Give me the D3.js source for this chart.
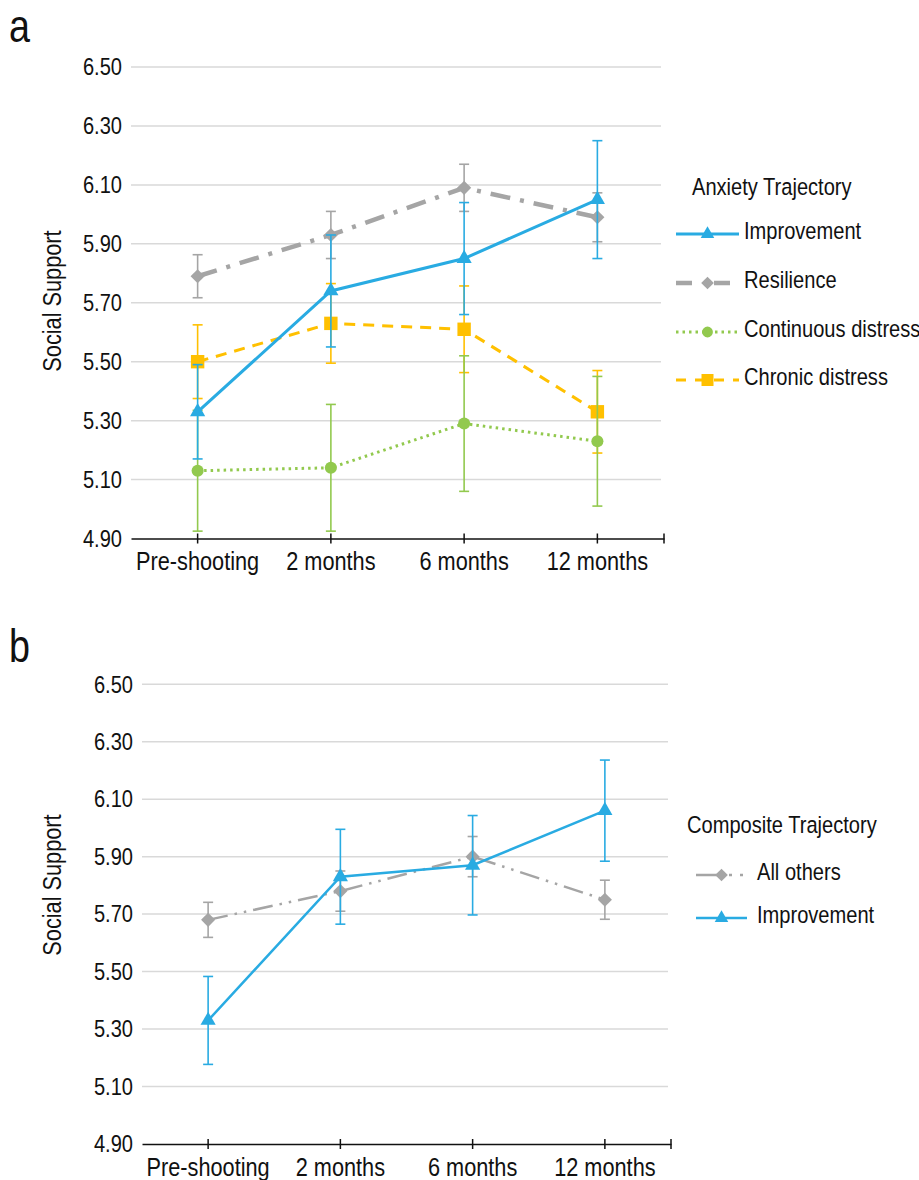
<!DOCTYPE html>
<html>
<head>
<meta charset="utf-8">
<script src="https://cdn.jsdelivr.net/npm/d3@7"></script>
<style>
  html, body { margin: 0; padding: 0; background: #fff; }
  svg { display: block; }
  text { font-family: 'Liberation Sans', Arial, sans-serif; fill: #111; }
</style>
</head>
<body>
<svg id="chart" width="919" height="1180"></svg>
<script>
// ---------- data ----------
const categories = ["Pre-shooting", "2 months", "6 months", "12 months"];
const yTicks = [4.9, 5.1, 5.3, 5.5, 5.7, 5.9, 6.1, 6.3, 6.5];

// Panel a: Anxiety Trajectory
const improvementA = [5.33, 5.74, 5.85, 6.05];
const improvementAErr = [0.16, 0.19, 0.19, 0.20];
const resilienceA = [5.79, 5.93, 6.09, 5.99];
const resilienceAErr = [0.073, 0.08, 0.08, 0.083];
const continuousA = [5.13, 5.14, 5.29, 5.23];
const continuousAErr = [0.205, 0.215, 0.23, 0.22];
const chronicA = [5.50, 5.63, 5.61, 5.33];
const chronicAErr = [0.125, 0.135, 0.147, 0.14];

// Panel b: Composite Trajectory
const allOthersB = [5.68, 5.78, 5.90, 5.75];
const allOthersBErr = [0.061, 0.07, 0.07, 0.068];
const improvementB = [5.33, 5.83, 5.87, 6.06];
const improvementBErr = [0.153, 0.165, 0.173, 0.176];

const BLUE = "#29abe2", GRAY = "#a5a5a5", GREEN = "#92c94e", YELLOW = "#ffc000";
const K = 0.82; // horizontal condensing of text

const svg = d3.select("#chart");

function condense(sel) {
  sel.each(function () {
    const t = d3.select(this);
    const x = +(t.attr("x") || 0);
    const tr = t.attr("transform") || "";
    t.attr("x", x / K).attr("transform", (tr ? tr + " " : "") + `scale(${K},1)`);
  });
}

function symbolPath(kind, size) {
  if (kind === "triangle") return d3.symbol().type(d3.symbolTriangle).size(size)();
  if (kind === "diamond") return d3.symbol().type(d3.symbolSquare).size(size)();
  if (kind === "circle") return d3.symbol().type(d3.symbolCircle).size(size)();
  return d3.symbol().type(d3.symbolSquare).size(size)();
}

function drawPanel(cfg) {
  const g = svg.append("g");
  const x = d3.scaleBand().domain(categories).range([cfg.x0, cfg.x1]).paddingInner(0).paddingOuter(0);
  const y = d3.scaleLinear().domain([4.9, 6.5]).range([cfg.yBottom, cfg.yTop]);
  const cx = c => x(c) + x.bandwidth() / 2;

  // panel letter
  g.append("text").attr("x", 9).attr("y", cfg.letterY).attr("font-size", 46).text(cfg.letter);

  // gridlines
  g.append("g").selectAll("line").data(yTicks.slice(1)).join("line")
    .attr("x1", cfg.x0).attr("x2", cfg.x1 - 3)
    .attr("y1", d => y(d)).attr("y2", d => y(d))
    .attr("stroke", "#d9d9d9").attr("stroke-width", 1.5);

  // y axis labels
  const ya = d3.axisLeft(y).tickValues(yTicks).tickSize(0).tickPadding(9).tickFormat(d3.format(".2f"));
  const yg = g.append("g").attr("transform", `translate(${cfg.x0},0)`).call(ya);
  yg.select(".domain").remove();
  yg.selectAll("text").attr("font-size", 24.5).attr("fill", "#111")
    .style("font-family", "'Liberation Sans', Arial, sans-serif");

  // x axis
  const xa = d3.axisBottom(x).tickSize(0).tickPadding(13);
  const xg = g.append("g").attr("transform", `translate(0,${cfg.yBottom})`).call(xa);
  xg.select(".domain").attr("stroke", "#111").attr("stroke-width", 1.6);
  xg.selectAll("text").attr("font-size", 26.5).attr("fill", "#111")
    .style("font-family", "'Liberation Sans', Arial, sans-serif");
  // cross tick marks at category centers and at the right end
  const tickXs = categories.map(cx).concat([cfg.x1]);
  xg.selectAll("line.tk").data(tickXs).join("line").attr("class", "tk")
    .attr("x1", d => d).attr("x2", d => d).attr("y1", -5).attr("y2", 5)
    .attr("stroke", "#111").attr("stroke-width", 1.5);

  // y axis title
  g.append("text")
    .attr("transform", `translate(${cfg.titleX},${cfg.titleY}) rotate(-90)`)
    .attr("text-anchor", "middle").attr("font-size", 26.5).text("Social Support");

  // series
  cfg.series.forEach(s => {
    const sg = g.append("g");
    // error bars
    s.values.forEach((v, i) => {
      const xx = cx(categories[i]);
      const e = s.err[i];
      sg.append("line").attr("x1", xx).attr("x2", xx).attr("y1", y(v - e)).attr("y2", y(v + e))
        .attr("stroke", s.color).attr("stroke-width", 1.6);
      [v - e, v + e].forEach(t => {
        sg.append("line").attr("x1", xx - 5).attr("x2", xx + 5).attr("y1", y(t)).attr("y2", y(t))
          .attr("stroke", s.color).attr("stroke-width", 1.6);
      });
    });
    const line = d3.line().x((d, i) => cx(categories[i])).y(d => y(d));
    sg.append("path").datum(s.values).attr("d", line)
      .attr("fill", "none").attr("stroke", s.color).attr("stroke-width", s.width)
      .attr("stroke-dasharray", s.dash || null).attr("stroke-linecap", s.cap || "butt");
    sg.selectAll("path.mk").data(s.values).join("path").attr("class", "mk")
      .attr("d", symbolPath(s.marker, s.msize))
      .attr("transform", (d, i) => `translate(${cx(categories[i])},${y(d)})` + (s.marker === "diamond" ? " rotate(45)" : ""))
      .attr("fill", s.color);
  });

  // legend
  const lg = g.append("g");
  lg.append("text").attr("x", cfg.legend.titleX).attr("y", cfg.legend.titleY).attr("font-size", 24.5).text(cfg.legend.title);
  cfg.legend.items.forEach((it, k) => {
    const s = cfg.series.find(d => d.name === it);
    const ry = cfg.legend.rows[k];
    lg.append("line").attr("x1", cfg.legend.lx0).attr("x2", cfg.legend.lx1).attr("y1", ry).attr("y2", ry)
      .attr("stroke", s.color).attr("stroke-width", s.width)
      .attr("stroke-dasharray", s.legendDash || s.dash || null).attr("stroke-linecap", s.cap || "butt");
    const mx = (cfg.legend.lx0 + cfg.legend.lx1) / 2;
    lg.append("path").attr("d", symbolPath(s.marker, s.msize * 0.8))
      .attr("transform", `translate(${mx},${ry})` + (s.marker === "diamond" ? " rotate(45)" : ""))
      .attr("fill", s.color);
    lg.append("text").attr("x", cfg.legend.tx).attr("y", ry + 5).attr("font-size", 24.5).text(it);
  });

  condense(g.selectAll("text"));
}

drawPanel({
  letter: "a", letterY: 42,
  x0: 131, x1: 664, yTop: 67, yBottom: 538.5,
  titleX: 61, titleY: 301,
  series: [
    { name: "Chronic distress", values: chronicA, err: chronicAErr, color: YELLOW, width: 3, dash: "11,8", marker: "square", msize: 180, legendDash: "10,9" },
    { name: "Continuous distress", values: continuousA, err: continuousAErr, color: GREEN, width: 3, dash: "2.5,4", marker: "circle", msize: 115 },
    { name: "Resilience", values: resilienceA, err: resilienceAErr, color: GRAY, width: 4.5, dash: "20,10,4,10", marker: "diamond", msize: 100, legendDash: "16,22" },
    { name: "Improvement", values: improvementA, err: improvementAErr, color: BLUE, width: 3, marker: "triangle", msize: 100 }
  ],
  legend: {
    title: "Anxiety Trajectory", titleX: 692, titleY: 195,
    items: ["Improvement", "Resilience", "Continuous distress", "Chronic distress"],
    rows: [234, 283, 332, 380], lx0: 676, lx1: 739, tx: 744
  }
});

drawPanel({
  letter: "b", letterY: 662,
  x0: 142, x1: 671, yTop: 684.2, yBottom: 1144,
  titleX: 61, titleY: 885,
  series: [
    { name: "All others", values: allOthersB, err: allOthersBErr, color: GRAY, width: 2.5, dash: "20,7,2.5,7,2.5,7", marker: "diamond", msize: 100, legendDash: "25,8,3,8,3,8" },
    { name: "Improvement", values: improvementB, err: improvementBErr, color: BLUE, width: 2.5, marker: "triangle", msize: 100 }
  ],
  legend: {
    title: "Composite Trajectory", titleX: 687, titleY: 833,
    items: ["All others", "Improvement"],
    rows: [875, 918], lx0: 696, lx1: 747, tx: 757
  }
});
</script>
</body>
</html>
